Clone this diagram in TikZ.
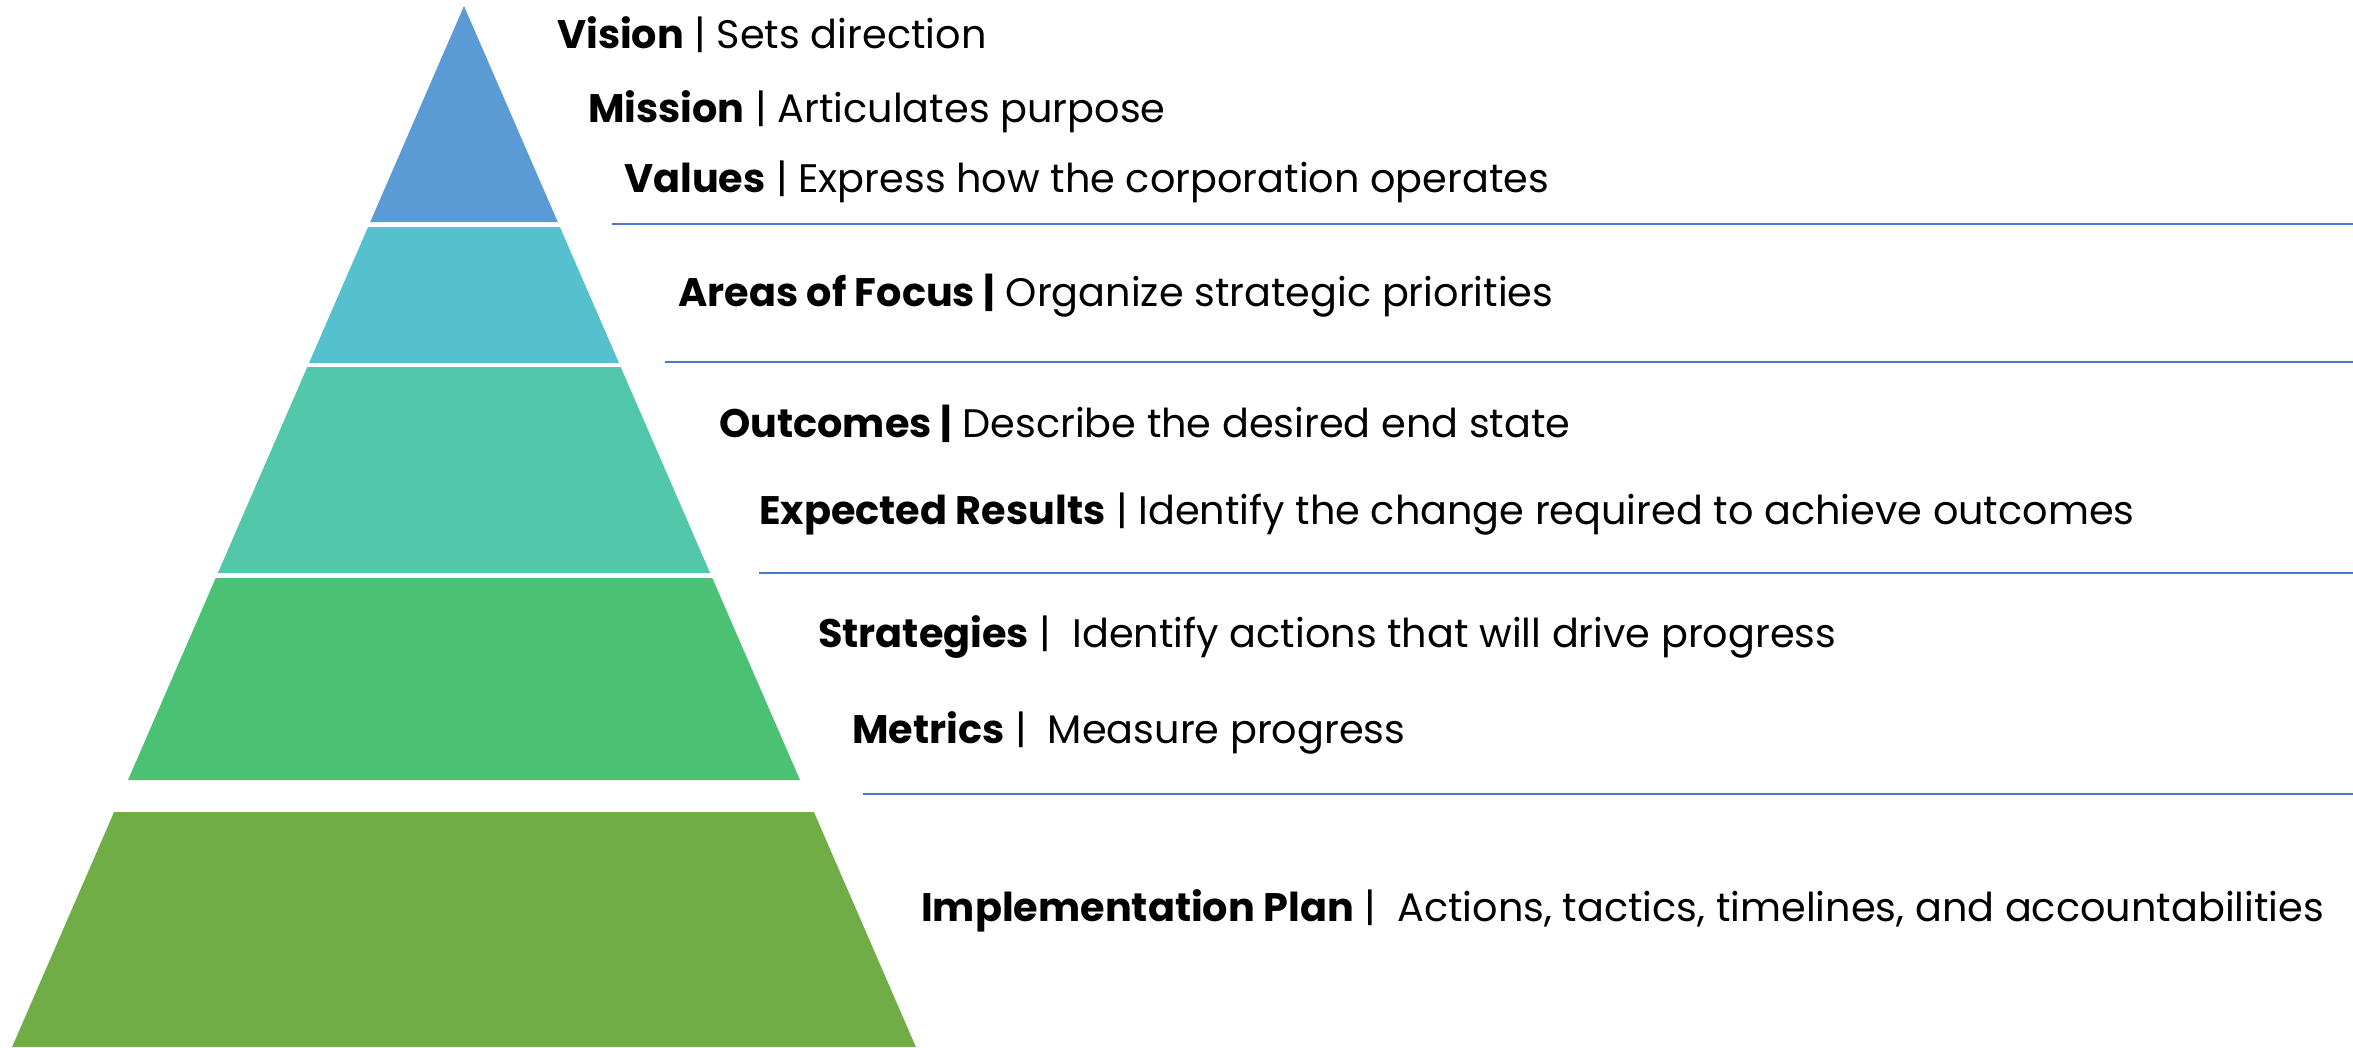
\documentclass[tikz,border=0pt]{standalone}
\usepackage{fontspec}
\setmainfont{Poppins}
\definecolor{tierA}{HTML}{5B9BD5}
\definecolor{tierB}{HTML}{55C1CE}
\definecolor{tierC}{HTML}{52C7A9}
\definecolor{tierD}{HTML}{4BC173}
\definecolor{tierE}{HTML}{70AD47}
\definecolor{sepline}{HTML}{4A78CC}
\begin{document}
\begin{tikzpicture}[x=1pt,y=-1pt,
  lbl/.style={anchor=base west,inner sep=0pt,font=\fontsize{39.8}{46}\selectfont,text=black},
  sep/.style={draw=sepline,line width=2pt}]
\useasboundingbox (0,0) rectangle (2353,1047);
% pyramid bands
\fill[tierA] (464,6) -- (557.8,222) -- (370.2,222) -- cycle;
\fill[tierB] (368.1,227) -- (559.9,227) -- (619.0,363) -- (309.0,363) -- cycle;
\fill[tierC] (307.3,367) -- (620.7,367) -- (710.1,573) -- (217.9,573) -- cycle;
\fill[tierD] (215.7,578) -- (712.3,578) -- (800.0,780) -- (128.0,780) -- cycle;
\fill[tierE] (114.1,812) -- (813.9,812) -- (915.9,1047) -- (12.1,1047) -- cycle;
% separators
\coordinate (s1a) at (612,224);  \coordinate (s1b) at (2353,224);
\coordinate (s2a) at (665,362);  \coordinate (s2b) at (2353,362);
\coordinate (s3a) at (759,573);  \coordinate (s3b) at (2353,573);
\coordinate (s4a) at (863,794);  \coordinate (s4b) at (2353,794);
\draw[sep] (s1a) -- (s1b);
\draw[sep] (s2a) -- (s2b);
\draw[sep] (s3a) -- (s3b);
\draw[sep] (s4a) -- (s4b);
% labels
\node[lbl] (vision) at (557,48) {\textbf{Vision} | Sets direction};
\node[lbl] (mission) at (588,122) {\textbf{Mission} | Articulates purpose};
\node[lbl] (values) at (624,192) {\textbf{Values} | Express how the corporation operates};
\node[lbl] (focus) at (678,306) {\textbf{Areas of Focus |} Organize strategic priorities};
\node[lbl] (outcomes) at (719,437) {\textbf{Outcomes |} Describe the desired end state};
\node[lbl] (results) at (759,524) {\textbf{Expected Results} | Identify the change required to achieve outcomes};
\node[lbl] (strategies) at (818,647) {\textbf{Strategies} |\ \ Identify actions that will drive progress};
\node[lbl] (metrics) at (852,743) {\textbf{Metrics} |\ \ Measure progress};
\node[lbl] (impl) at (921,921) {\textbf{Implementation Plan} |\ \ Actions, tactics, timelines, and accountabilities};
\end{tikzpicture}
\end{document}
